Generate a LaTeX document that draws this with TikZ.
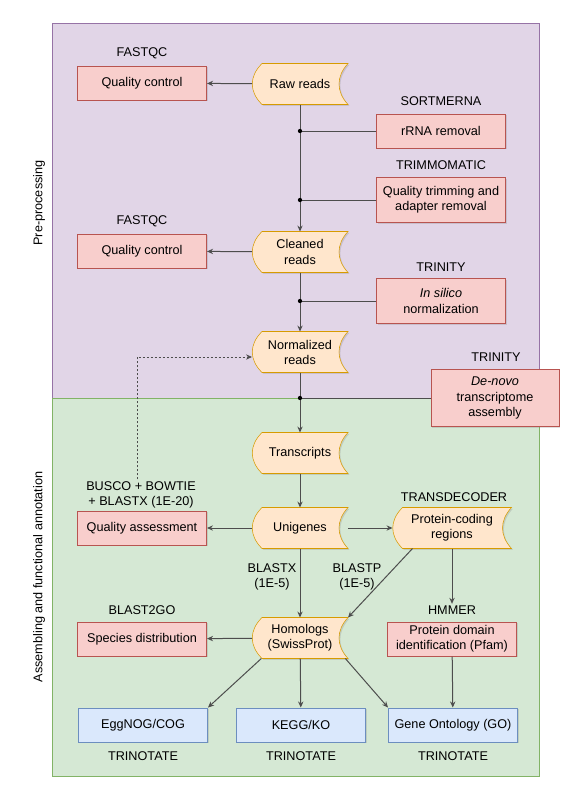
\documentclass[tikz,border=0pt]{standalone}
\usepackage{fontspec}
\setmainfont{Liberation Sans}
\usetikzlibrary{arrows.meta,shadows,backgrounds,calc}

\tikzset{every picture/.style={line width=0.75pt}}

\definecolor{prefill}{HTML}{E1D5E7}
\definecolor{preline}{HTML}{9673A6}
\definecolor{asmfill}{HTML}{D5E8D4}
\definecolor{asmline}{HTML}{82B366}
\definecolor{redfill}{HTML}{F8CECC}
\definecolor{redline}{HTML}{B85450}
\definecolor{tapefill}{HTML}{FFE6CC}
\definecolor{tapeline}{HTML}{D79B00}
\definecolor{bluefill}{HTML}{DAE8FC}
\definecolor{blueline}{HTML}{6C8EBF}
\definecolor{wire}{HTML}{4D4D4D}

\tikzset{
  toolbox/.style={draw=redline, fill=redfill, inner sep=1.5pt, align=center,
    minimum width=96.75pt, minimum height=25.5pt,
    drop shadow={shadow xshift=1pt, shadow yshift=-1pt, opacity=0.25}},
  dbbox/.style={draw=blueline, fill=bluefill, inner sep=1.5pt, align=center,
    minimum width=96.75pt, minimum height=25.5pt,
    drop shadow={shadow xshift=1pt, shadow yshift=-1pt, opacity=0.25}},
  datastore/.style={inner sep=1.5pt, align=center, minimum width=71.25pt, minimum height=30pt},
  tapeshape/.style={draw=tapeline, fill=tapefill,
    drop shadow={shadow xshift=1pt, shadow yshift=-1pt, opacity=0.25}},
  toolname/.style={inner sep=1pt, align=center},
  conn/.style={draw=wire, -{Stealth[length=4.5pt,width=4pt]}},
  link/.style={draw=wire},
  junction/.style={fill=black},
}

\begin{document}
\begin{tikzpicture}[x=0.75pt,y=0.75pt,yscale=-1,xscale=1,
  font=\fontsize{9.5pt}{11.3pt}\selectfont]
\useasboundingbox (0,0) rectangle (582,800);

% pre-processing
\node [datastore] (raw) at (300,84) {Raw reads};
\node [toolbox] (qc1) at (142,83) {Quality control};
\node [toolname] (fastqc1) at (142,53) {FASTQC};
\node [toolbox] (rrna) at (441,131) {rRNA removal};
\node [toolname] (sortmerna) at (441,101) {SORTMERNA};
\node [toolbox, minimum height=33.75pt] (trim) at (441,200) {Quality trimming and\\adapter removal};
\node [toolname] (trimmomatic) at (441,165) {TRIMMOMATIC};
\node [datastore] (clean) at (300,252) {Cleaned\\reads};
\node [toolbox] (qc2) at (142,251) {Quality control};
\node [toolname] (fastqc2) at (142,221) {FASTQC};
\node [toolbox, minimum height=33.75pt] (insilico) at (441,301) {\textit{In silico}\\normalization};
\node [toolname] (trinity1) at (441,267) {TRINITY};
\node [datastore] (norm) at (300,352) {Normalized\\reads};
\node [toolbox, minimum width=96pt, minimum height=42.75pt] (denovo) at (495,398) {\textit{De-novo}\\transcriptome\\assembly};
\node [toolname] (trinity2) at (496,357) {TRINITY};

% assembling and annotation
\node [datastore] (trans) at (300,453) {Transcripts};
\node [datastore] (uni) at (300,528) {Unigenes};
\node [toolbox] (qa) at (142,528) {Quality assessment};
\node [toolname] (busco) at (141,494.5) {BUSCO + BOWTIE\\+ BLASTX (1E-20)};
\node [datastore, minimum width=88.5pt] (pcr) at (452,528) {Protein-coding\\regions};
\node [toolname] (transdecoder) at (454,497) {TRANSDECODER};
\node [toolname] (blastx) at (272,576.5) {BLASTX\\(1E-5)};
\node [toolname] (blastp) at (357,576.5) {BLASTP\\(1E-5)};
\node [datastore] (hom) at (300,638) {Homologs\\(SwissProt)};
\node [toolbox] (species) at (142,639) {Species distribution};
\node [toolname] (blast2go) at (142,610) {BLAST2GO};
\node [toolbox] (pfam) at (452,639) {Protein domain\\identification (Pfam)};
\node [toolname] (hmmer) at (452,610) {HMMER};
\node [dbbox] (egg) at (143,725) {EggNOG/COG};
\node [toolname] (trinotate1) at (143,756) {TRINOTATE};
\node [dbbox] (kegg) at (301,725) {KEGG/KO};
\node [toolname] (trinotate2) at (301,756) {TRINOTATE};
\node [dbbox] (go) at (453,725) {Gene Ontology (GO)};
\node [toolname] (trinotate3) at (453,756) {TRINOTATE};

\node [rotate=90] (prelabel) at (39,203) {Pre-processing};
\node [rotate=90] (asmlabel) at (39,577) {Assembling and functional annotation};

\begin{scope}[on background layer]
\draw [draw=preline, fill=prefill] (52,23) rectangle (539,398);
\draw [draw=asmline, fill=asmfill] (52,398) rectangle (539,776);
\foreach \n in {raw,clean,norm,trans,uni,hom,pcr}
  \draw [tapeshape] ($(\n.north west)+(10,0)$) -- (\n.north east) .. controls ($(\n.north east)+(-12,13)$) and ($(\n.south east)+(-12,-13)$) .. (\n.south east) -- ($(\n.south west)+(10,0)$) .. controls ($(\n.south west)+(-3,-13)$) and ($(\n.north west)+(-3,13)$) .. ($(\n.north west)+(10,0)$) -- cycle;
\end{scope}

\coordinate (j1) at (raw.south |- rrna.west);
\coordinate (j2) at (raw.south |- trim.west);
\coordinate (j3) at (clean.south |- insilico.west);
\coordinate (j4) at (norm.south |- denovo.west);

\draw [conn] (raw) -- (qc1);
\draw [conn] (raw) -- (clean);
\draw [link] (rrna) -- (j1);
\draw [link] (trim) -- (j2);
\draw [conn] (clean) -- (qc2);
\draw [conn] (clean) -- (norm);
\draw [link] (insilico) -- (j3);
\draw [conn] (norm) -- (trans);
\draw [link] (denovo) -- (j4);
\draw [conn] (trans) -- (uni);
\draw [conn] (uni) -- (qa);
\draw [conn] (uni) -- (pcr);
\draw [conn] (uni) -- (hom);
\draw [conn] ([xshift=15pt]pcr.south west) -- (hom.north east);
\draw [conn] (pcr) -- (hmmer);
\draw [conn] (hom) -- (species);
\draw [conn] ([xshift=7pt]hom.south west) -- (egg.north east);
\draw [conn] (hom) -- (kegg);
\draw [conn] ([xshift=-2pt]hom.south east) -- (go.north west);
\draw [conn] (pfam) -- (go);
\draw [conn, dash pattern=on 1.5pt off 1.5pt] ([xshift=-3pt]busco.north) |- ([yshift=3.75pt]norm.west);

\foreach \j in {j1,j2,j3,j4}
  \fill [junction] (\j) circle [radius=1.6pt];

\end{tikzpicture}
\end{document}
